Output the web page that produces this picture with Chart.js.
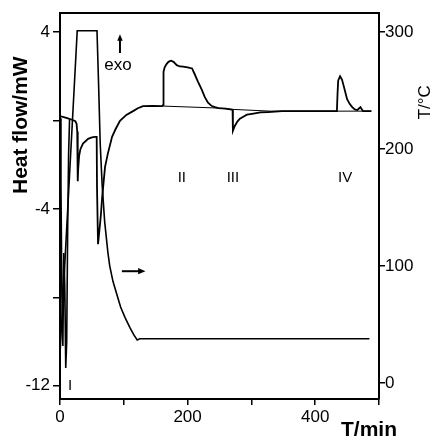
<!DOCTYPE html>
<html>
<head>
<meta charset="utf-8">
<script src="https://cdn.jsdelivr.net/npm/chart.js@4.4.1/dist/chart.umd.min.js"></script>
<style>
  html, body { margin: 0; padding: 0; background: #fff; }
  #wrap { width: 435px; height: 442px; }
</style>
</head>
<body>
<div id="wrap"><canvas id="c" width="435" height="442"></canvas></div>
<script>
// ---------- DATA ----------
// heat flow, left axis (mW) vs time (min)
const heatTime = [0, 10, 20, 24, 26, 27, 27.8, 28.5, 30, 32, 36, 44, 50, 55, 57.5, 58, 59.6,
  62, 64, 66, 68, 70.6, 75, 81.6, 87, 94, 104, 114.5, 122, 130, 145, 160,
  161.6, 162, 162.5, 164, 167, 170, 174, 178, 183, 188, 193, 200, 207, 211, 216, 222, 227, 232, 238, 243, 248,
  260, 269, 270.5, 271, 274, 278, 282, 288, 293, 301, 314, 326, 348, 400, 434,
  435, 436, 439, 442, 444, 447, 450, 454, 458, 462, 466, 469, 471, 473, 475, 488];
const heatFlow = [0.2, 0.12, 0.02, -0.03, -0.15, -0.5, -2.75, -2.2, -1.6, -1.3, -1.05, -0.83, -0.77, -0.74, -0.74, -3.0, -5.6,
  -4.9, -4.3, -3.5, -2.9, -2.1, -1.5, -0.74, -0.4, -0.02, 0.25, 0.42, 0.55, 0.65, 0.66, 0.65,
  0.7, 1.8, 2.2, 2.4, 2.55, 2.65, 2.7, 2.65, 2.5, 2.44, 2.43, 2.4, 2.35, 2.1, 1.77, 1.4, 1.05, 0.8, 0.65, 0.6, 0.56,
  0.53, 0.49, 0.48, -0.47, -0.25, -0.05, 0.08, 0.18, 0.26, 0.3, 0.36, 0.38, 0.42, 0.42, 0.42,
  1.2, 1.8, 2.0, 1.85, 1.63, 1.3, 0.96, 0.75, 0.6, 0.5, 0.47, 0.55, 0.6, 0.5, 0.42, 0.42];

// initial transient (peak I)
const startTime = [0, 1.5, 3, 4.5, 6, 7.5, 9, 10.5, 12, 13.5, 15];
const startFlow = [0.1, -3, -8, -10.2, -6, -7.5, -11.2, -10, -5, -1.5, 0.05];

// interpolated baseline under peaks II - IV
const baseTime = [160, 248, 270, 330, 488];
const baseFlow = [0.65, 0.56, 0.5, 0.42, 0.42];

// temperature programme, right axis (deg C)
const tempTime = [0, 27, 58, 60.5, 63, 66, 70, 75, 78, 83, 89, 95, 102, 110, 116, 121, 125, 200, 300, 400, 485];
const tempVal = [25, 301, 301, 255, 205, 170, 138, 112, 100, 87, 76, 65, 56, 47, 41, 37, 38, 38, 38, 38, 38];

// axes
const xTicks = [0, 100, 200, 300, 400, 500];
const xLabels = [0, 200, 400];
const hfTicks = [4, 0, -4, -8, -12];
const hfLabels = [4, -4, -12];
const tTicks = [0, 100, 200, 300];

// annotations in data units (x: min, y: mW)
const peakNames = ["I", "II", "III", "IV"];
const peakAtTime = [15.7, 191, 271, 447];
const peakAtFlow = [-12.0, -2.6, -2.6, -2.6];

// ---------- HELPERS ----------
const FONT = "'Liberation Sans', Arial, sans-serif";
const pts = (xs, ys) => xs.map((x, i) => ({ x, y: ys[i] }));

function arrow(ctx, x1, y1, x2, y2, head) {
  const a = Math.atan2(y2 - y1, x2 - x1);
  ctx.beginPath();
  ctx.moveTo(x1, y1);
  ctx.lineTo(x2 - Math.cos(a) * head * 0.8, y2 - Math.sin(a) * head * 0.8);
  ctx.stroke();
  ctx.beginPath();
  ctx.moveTo(x2, y2);
  ctx.lineTo(x2 - head * Math.cos(a - 0.4), y2 - head * Math.sin(a - 0.4));
  ctx.lineTo(x2 - head * Math.cos(a + 0.4), y2 - head * Math.sin(a + 0.4));
  ctx.closePath();
  ctx.fill();
}

const extras = {
  id: "extras",
  beforeDraw(chart) {
    const { ctx } = chart;
    ctx.save();
    ctx.fillStyle = "#fff";
    ctx.fillRect(0, 0, chart.width, chart.height);
    ctx.restore();
  },
  afterDraw(chart) {
    const { ctx, chartArea } = chart;
    const sx = chart.scales.x, sy = chart.scales.y;
    ctx.save();
    ctx.fillStyle = "#000";
    ctx.strokeStyle = "#000";

    // peak labels
    ctx.font = "15px " + FONT;
    ctx.textAlign = "center";
    ctx.textBaseline = "middle";
    peakNames.forEach((n, i) => {
      ctx.fillText(n, sx.getPixelForValue(peakAtTime[i]), sy.getPixelForValue(peakAtFlow[i]));
    });

    // exo + arrow
    ctx.font = "17px " + FONT;
    ctx.fillText("exo", sx.getPixelForValue(91), sy.getPixelForValue(2.5));
    ctx.lineWidth = 2;
    arrow(ctx, sx.getPixelForValue(94), sy.getPixelForValue(3.05),
      sx.getPixelForValue(94), sy.getPixelForValue(3.9), 7);

    // arrow pointing at the temperature axis
    arrow(ctx, sx.getPixelForValue(97), sy.getPixelForValue(-6.82),
      sx.getPixelForValue(134), sy.getPixelForValue(-6.82), 8);

    // axis titles
    ctx.font = "bold 21px " + FONT;
    ctx.save();
    ctx.translate(21, chartArea.top + 112);
    ctx.rotate(-Math.PI / 2);
    ctx.fillText("Heat flow/mW", 0, 0);
    ctx.restore();

    ctx.font = "17px " + FONT;
    ctx.save();
    ctx.translate(425, chartArea.top + 89);
    ctx.rotate(-Math.PI / 2);
    ctx.fillText("T/\u00B0C", 0, 0);
    ctx.restore();

    ctx.font = "bold 21px " + FONT;
    ctx.fillText("T/min", chartArea.right - 10, chartArea.bottom + 31);
    ctx.restore();
  }
};

// ---------- CHART ----------
const tickFont = { family: FONT, size: 17 };
const axisGrid = { display: true, drawOnChartArea: false, drawTicks: true, tickLength: 7, color: "#000", lineWidth: 1.5 };
const axisBorder = { display: true, color: "#000", width: 2 };

new Chart(document.getElementById("c"), {
  type: "line",
  data: {
    datasets: [
      { label: "Heat flow", data: pts(heatTime, heatFlow), yAxisID: "y", borderColor: "#000", borderWidth: 1.8 },
      { label: "Start", data: pts(startTime, startFlow), yAxisID: "y", borderColor: "#000", borderWidth: 1.6 },
      { label: "Baseline", data: pts(baseTime, baseFlow), yAxisID: "y", borderColor: "#000", borderWidth: 1 },
      { label: "T", data: pts(tempTime, tempVal), yAxisID: "y2", borderColor: "#000", borderWidth: 1.6 }
    ]
  },
  options: {
    responsive: false,
    animation: false,
    devicePixelRatio: 1,
    layout: { padding: 0 },
    elements: { point: { radius: 0 }, line: { tension: 0, fill: false } },
    plugins: { legend: { display: false }, tooltip: { enabled: false } },
    scales: {
      x: {
        type: "linear", position: "bottom", min: 0, max: 500,
        afterBuildTicks: s => { s.ticks = xTicks.map(v => ({ value: v })); },
        afterFit: s => { s.height = 43; },
        ticks: { callback: v => xLabels.includes(v) ? String(v) : "", font: tickFont, color: "#000", padding: 2, maxRotation: 0, autoSkip: false },
        grid: { ...axisGrid, tickLength: 6 },
        border: axisBorder
      },
      xTop: {
        type: "linear", position: "top", min: 0, max: 500,
        afterFit: s => { s.height = 8; },
        ticks: { display: false },
        grid: { display: false },
        border: axisBorder
      },
      y: {
        type: "linear", position: "left", min: -12.6, max: 4.85,
        afterBuildTicks: s => { s.ticks = hfTicks.map(v => ({ value: v })); },
        afterFit: s => { s.width = 60; },
        ticks: { callback: v => hfLabels.includes(v) ? String(v) : "", font: tickFont, color: "#000", padding: 3, autoSkip: false },
        grid: axisGrid,
        border: axisBorder
      },
      y2: {
        type: "linear", position: "right", min: -13.5, max: 316,
        afterBuildTicks: s => { s.ticks = tTicks.map(v => ({ value: v })); },
        afterFit: s => { s.width = 56; },
        ticks: { font: tickFont, color: "#000", padding: 0, autoSkip: false },
        grid: { ...axisGrid, tickLength: 6 },
        border: axisBorder
      }
    }
  },
  plugins: [extras]
});
</script>
</body>
</html>
